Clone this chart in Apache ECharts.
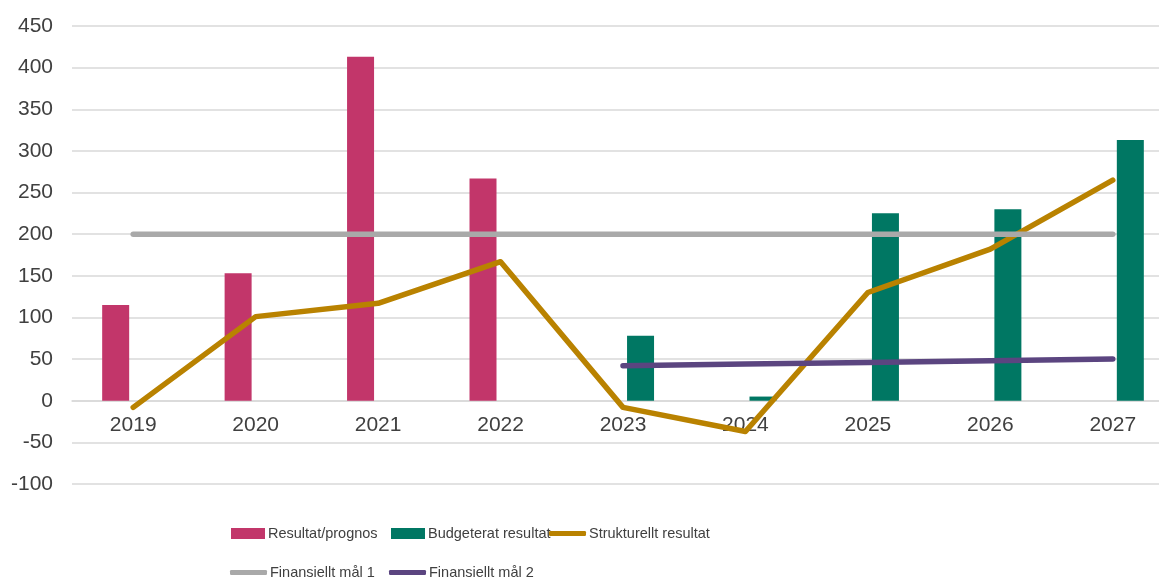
<!DOCTYPE html>
<html lang="sv">
<head>
  <meta charset="UTF-8">
  <title>Resultat</title>
  <style>
    * { margin: 0; padding: 0; }
    body { background: #ffffff; }
    #chart { width: 1159px; height: 579px; }
  </style>
</head>
<body>
  <div id="chart"></div>

  <script src="https://cdn.jsdelivr.net/npm/echarts@6/dist/echarts.min.js"></script>
  <script type="text/javascript">
  // årtal
  var years = ['2019', '2020', '2021', '2022', '2023', '2024', '2025', '2026', '2027'];
  // staplar
  var resultatPrognos = [115, 153, 413, 267, null, null, null, null, null];
  var budgeteratResultat = [null, null, null, null, 78, 5, 225, 230, 313];
  // linjer
  var strukturelltResultat = [-8, 101, 117, 167, -8, -37, 130, 182, 265];
  var finansielltMal1 = [200, 200, 200, 200, 200, 200, 200, 200, 200];
  var finansielltMal2 = [null, null, null, null, 42, 44, 46, 48, 50];

  var axisFont = '"Liberation Sans", Arial, sans-serif';

  function legendAt (name, left, top, isLine) {
    return {
      data: [name],
      left: left,
      top: top,
      icon: isLine ? 'roundRect' : 'rect',
      itemWidth: isLine ? 37 : 34,
      itemHeight: isLine ? 5 : 11,
      itemGap: 0,
      selectedMode: false,
      textStyle: { fontFamily: axisFont, fontSize: 14.5, color: '#404040', padding: [0, 0, 0, -2] }
    };
  }

  function lineSeries (name, data, color) {
    return {
      name: name,
      type: 'line',
      data: data,
      symbol: 'none',
      lineStyle: { width: 5.5, color: color, cap: 'round', join: 'round' },
      itemStyle: { color: color }
    };
  }

  function main () {
    var chart = echarts.init(document.getElementById('chart'));
    var option = {
      animation: false,
      // ritytan går lite utanför bilden till höger
      grid: { left: 72, top: 26, width: 1102, height: 458, outerBoundsMode: 'none' },
      legend: [
        legendAt('Resultat/prognos', 226, 521, false),
        legendAt('Budgeterat resultat', 386, 521, false),
        legendAt('Strukturellt resultat', 544, 521, true),
        legendAt('Finansiellt mål 1', 225, 560, true),
        legendAt('Finansiellt mål 2', 384, 560, true)
      ],
      xAxis: {
        type: 'category',
        data: years,
        // etiketterna ligger vid nollan
        offset: -83.5,
        axisLine: { onZero: false, lineStyle: { color: '#d9d9d9', width: 1.5 } },
        axisTick: { show: false },
        axisLabel: { margin: 14, fontFamily: axisFont, fontSize: 21, color: '#404040' }
      },
      yAxis: {
        type: 'value',
        min: -100,
        max: 450,
        interval: 50,
        axisLine: { show: false },
        axisTick: { show: false },
        axisLabel: { margin: 19, fontFamily: axisFont, fontSize: 21, color: '#404040' },
        splitLine: { lineStyle: { color: '#d9d9d9', width: 1.5 } }
      },
      series: [
        {
          name: 'Resultat/prognos',
          type: 'bar',
          data: resultatPrognos,
          barWidth: 27,
          barGap: '30%',
          itemStyle: { color: '#c2366a' }
        },
        {
          name: 'Budgeterat resultat',
          type: 'bar',
          data: budgeteratResultat,
          barWidth: 27,
          barGap: '30%',
          itemStyle: { color: '#007763' }
        },
        lineSeries('Strukturellt resultat', strukturelltResultat, '#b98200'),
        lineSeries('Finansiellt mål 1', finansielltMal1, '#a9a9a9'),
        lineSeries('Finansiellt mål 2', finansielltMal2, '#5b4580')
      ]
    };
    chart.setOption(option);
  }

  window.addEventListener('load', main);
  </script>
</body>
</html>
